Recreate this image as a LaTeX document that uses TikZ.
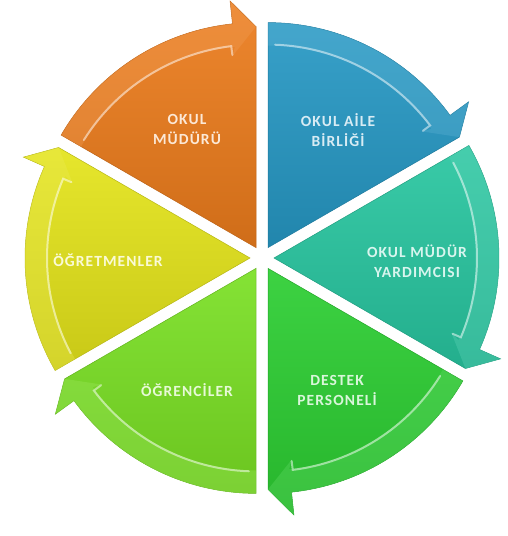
\documentclass[tikz,border=0pt]{standalone}
\usepackage{fontspec}
\newfontfamily\lblfont{Carlito}[LetterSpace=7]
\usepackage{tikz}
\usetikzlibrary{positioning}
\definecolor{mudurcol}{RGB}{236,124,28}
\definecolor{ailecol}{RGB}{38,152,196}
\definecolor{yardcol}{RGB}{40,198,160}
\definecolor{destekcol}{RGB}{44,206,50}
\definecolor{ogrcol}{RGB}{122,224,36}
\definecolor{ogtcol}{RGB}{228,228,26}
\tikzset{every picture/.style={line width=0.75pt}}
\tikzset{
  sector/.style={draw=#1!80!black, line width=0.5pt, top color=#1!92!white, bottom color=#1!88!black},
  band/.style={fill=#1!75!white, fill opacity=0.35, draw=none},
  shine/.style={draw=white, line width=2pt, opacity=0.5, line cap=round},
  lbl/.style={align=center, text=#1!18!white, font=\lblfont\bfseries\fontsize{15.5}{20}\selectfont}
}

\begin{document}
\begin{tikzpicture}[x=1pt,y=1pt]
\useasboundingbox (0,0) rectangle (507,536);
\coordinate (c) at (262,278);
% okul mudurlugu
\begin{scope}[shift={(c)},shift={(120:12)}]
\path[sector=mudurcol] (0,0) -- (150:225) arc[start angle=150,end angle=96,radius=225] -- (96:248) -- (90:221) -- cycle;
\path[band=mudurcol] (150:225) arc[start angle=150,end angle=96,radius=225] -- (96:248) -- (90:221) -- (97:193) -- (96:202) arc[start angle=96,end angle=150,radius=202] -- cycle;
\draw[shine] (148:203) arc[start angle=148,end angle=97,radius=203] -- (97:194);
\end{scope}
% okul aile birligi
\begin{scope}[shift={(c)},shift={(60:12)}]
\path[sector=ailecol] (0,0) -- (90:225) arc[start angle=90,end angle=36,radius=225] -- (36:248) -- (30:221) -- cycle;
\path[band=ailecol] (90:225) arc[start angle=90,end angle=36,radius=225] -- (36:248) -- (30:221) -- (37:193) -- (36:202) arc[start angle=36,end angle=90,radius=202] -- cycle;
\draw[shine] (88:203) arc[start angle=88,end angle=37,radius=203] -- (37:194);
\end{scope}
% mudur yardimcisi
\begin{scope}[shift={(c)},shift={(0:12)}]
\path[sector=yardcol] (0,0) -- (30:225) arc[start angle=30,end angle=-24,radius=225] -- (-24:248) -- (-30:221) -- cycle;
\path[band=yardcol] (30:225) arc[start angle=30,end angle=-24,radius=225] -- (-24:248) -- (-30:221) -- (-23:193) -- (-24:202) arc[start angle=-24,end angle=30,radius=202] -- cycle;
\draw[shine] (28:203) arc[start angle=28,end angle=-23,radius=203] -- (-23:194);
\end{scope}
% destek personeli
\begin{scope}[shift={(c)},shift={(-60:12)}]
\path[sector=destekcol] (0,0) -- (-30:225) arc[start angle=-30,end angle=-84,radius=225] -- (-84:248) -- (-90:221) -- cycle;
\path[band=destekcol] (-30:225) arc[start angle=-30,end angle=-84,radius=225] -- (-84:248) -- (-90:221) -- (-83:193) -- (-84:202) arc[start angle=-84,end angle=-30,radius=202] -- cycle;
\draw[shine] (-32:203) arc[start angle=-32,end angle=-83,radius=203] -- (-83:194);
\end{scope}
% ogrenciler
\begin{scope}[shift={(c)},shift={(-120:12)}]
\path[sector=ogrcol] (0,0) -- (-90:225) arc[start angle=-90,end angle=-144,radius=225] -- (-144:248) -- (-150:221) -- cycle;
\path[band=ogrcol] (-90:225) arc[start angle=-90,end angle=-144,radius=225] -- (-144:248) -- (-150:221) -- (-143:193) -- (-144:202) arc[start angle=-144,end angle=-90,radius=202] -- cycle;
\draw[shine] (-92:203) arc[start angle=-92,end angle=-143,radius=203] -- (-143:194);
\end{scope}
% ogretmenler
\begin{scope}[shift={(c)},shift={(180:12)}]
\path[sector=ogtcol] (0,0) -- (210:225) arc[start angle=210,end angle=156,radius=225] -- (156:248) -- (150:221) -- cycle;
\path[band=ogtcol] (210:225) arc[start angle=210,end angle=156,radius=225] -- (156:248) -- (150:221) -- (157:193) -- (156:202) arc[start angle=156,end angle=210,radius=202] -- cycle;
\draw[shine] (208:203) arc[start angle=208,end angle=157,radius=203] -- (157:194);
\end{scope}
% labels
\node[lbl=mudurcol] (mudur) at (187,407) {OKUL\\MÜDÜRÜ};
\node[lbl=ailecol] (aile) at (338,406) {OKUL AİLE\\BİRLİĞİ};
\node[lbl=yardcol] (yardimci) at (417,275) {OKUL MÜDÜR\\YARDIMCISI};
\node[lbl=destekcol] (destek) at (337,146) {DESTEK\\PERSONELİ};
\node[lbl=ogrcol] (ogrenci) at (187,146) {ÖĞRENCİLER};
\node[lbl=ogtcol] (ogretmen) at (108,276) {ÖĞRETMENLER};
\end{tikzpicture}
\end{document}
